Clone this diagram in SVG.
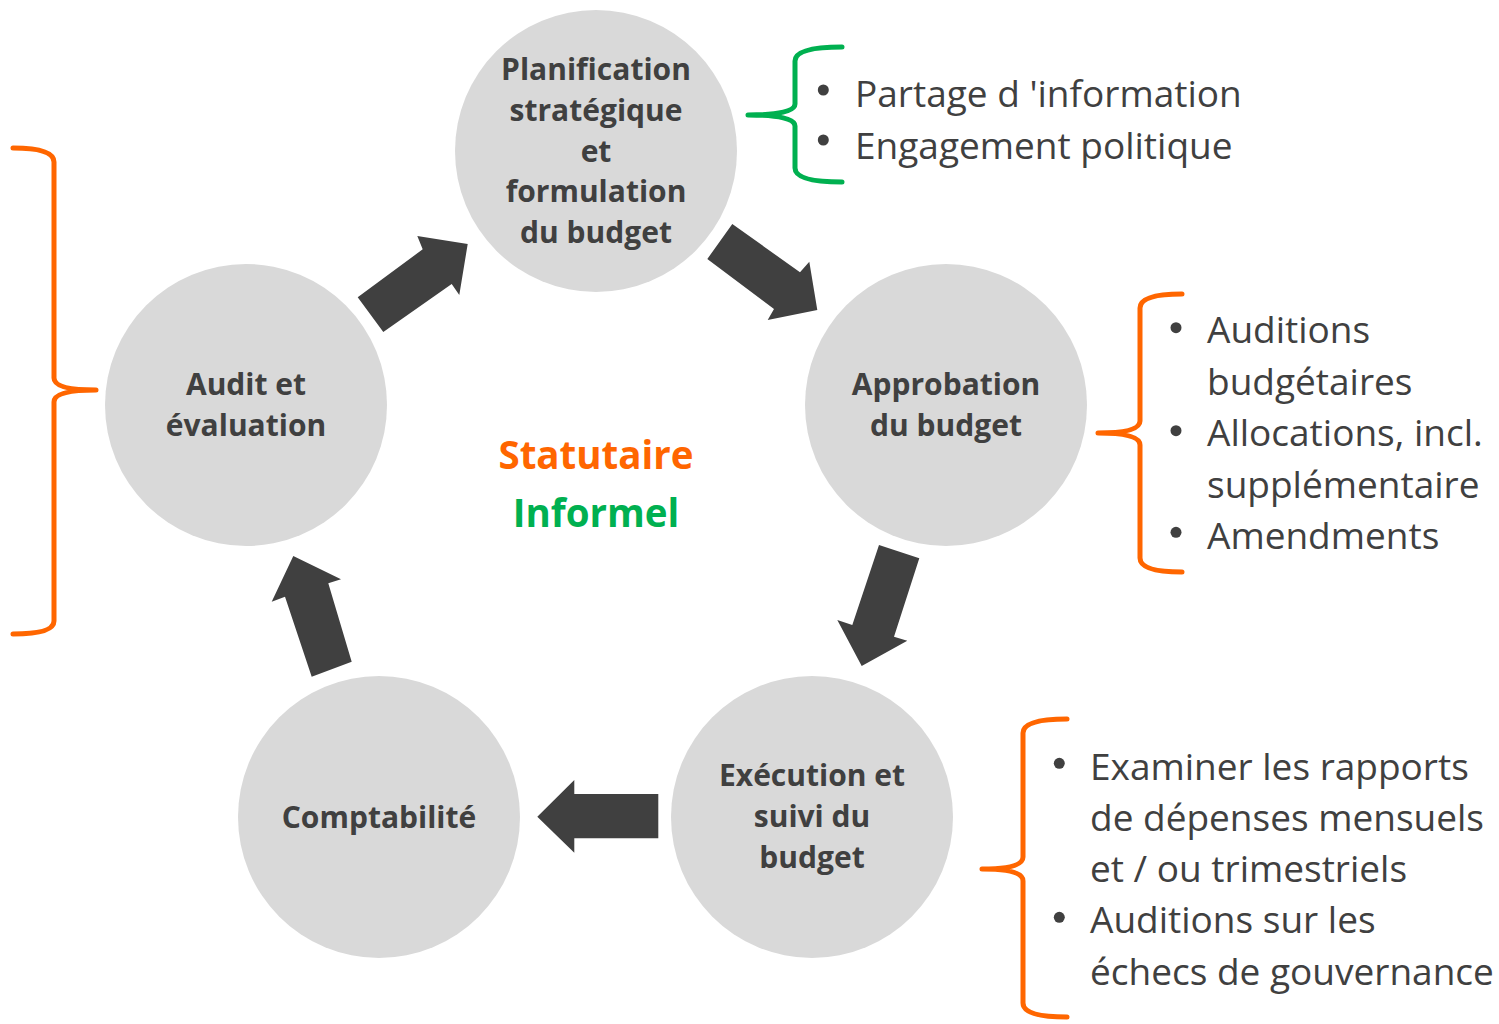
<svg xmlns="http://www.w3.org/2000/svg" width="1499" height="1024" viewBox="0 0 1499 1024">
<style>
.node circle{fill:#D9D9D9}
.lbl{font-family:"Open Sans","Liberation Sans",sans-serif;font-weight:bold;font-size:30px;fill:#404040;text-anchor:middle}
.arrow{fill:#404040}
.brace{fill:none;stroke-width:5;stroke-linecap:round;stroke-linejoin:round}
.orange{stroke:#FF6600}
.green{stroke:#00B050}
.item{font-family:"Open Sans","Liberation Sans",sans-serif;font-size:37px;fill:#404040}
.bul{fill:#404040}
</style>
<rect width="1499" height="1024" fill="#FFFFFF"/>
<g id="connectors">
<polygon class="arrow" points="357.7,297.3 383.3,332 451.7,284 459.3,295 467.7,244 417.3,236 422.7,249.3"/>
<polygon class="arrow" points="732.3,224 800,272.3 809.3,261.7 817.3,310 767.7,320 774,309 707.3,259"/>
<polygon class="arrow" points="879,545 919.3,558.3 894,636.7 907.3,640.7 861.7,666 837.3,620 852.3,625"/>
<polygon class="arrow" points="658.3,794 658.3,838.3 574.3,838.3 574.3,852.7 537.3,816.7 574.3,780 574.3,794"/>
<polygon class="arrow" points="311.7,676.7 351.7,661.7 328.3,583.3 341,579.3 293.3,556 271.7,601.7 285,596.7"/>
</g>
<g id="node-planification" class="node">
<circle cx="596" cy="151" r="141"/>
<text class="lbl" x="596" y="80">Planification</text>
<text class="lbl" x="596" y="121">stratégique</text>
<text class="lbl" x="596" y="162">et</text>
<text class="lbl" x="596" y="202">formulation</text>
<text class="lbl" x="596" y="243">du budget</text>
</g>
<g id="node-approbation" class="node">
<circle cx="946" cy="405" r="141"/>
<text class="lbl" x="946" y="395">Approbation</text>
<text class="lbl" x="946" y="436">du budget</text>
</g>
<g id="node-execution" class="node">
<circle cx="812" cy="817" r="141"/>
<text class="lbl" x="812" y="786">Exécution et</text>
<text class="lbl" x="812" y="827">suivi du</text>
<text class="lbl" x="812" y="868">budget</text>
</g>
<g id="node-comptabilite" class="node">
<circle cx="379" cy="817" r="141"/>
<text class="lbl" x="379" y="828">Comptabilité</text>
</g>
<g id="node-audit" class="node">
<circle cx="246" cy="405" r="141"/>
<text class="lbl" x="246" y="395">Audit et</text>
<text class="lbl" x="246" y="436">évaluation</text>
</g>
<g id="center-labels">
<text x="596" y="469" font-family="'Open Sans','Liberation Sans',sans-serif" font-weight="bold" font-size="38.5" fill="#FF6600" text-anchor="middle">Statutaire</text>
<text x="596" y="527" font-family="'Open Sans','Liberation Sans',sans-serif" font-weight="bold" font-size="38.5" fill="#00B050" text-anchor="middle">Informel</text>
</g>
<g id="brace-left">
<path class="brace orange" d="M13,148 Q54,148 54,162 L54,378 Q54,390 96,390 Q54,390 54,402 L54,621 Q54,634 13,634"/>
</g>
<g id="brace-planification">
<path class="brace green" d="M842,47 Q795,47 795,61 L795,104 Q795,115 748,115 Q795,115 795,126 L795,168 Q795,182 842,182"/>
<circle class="bul" cx="823.3" cy="90" r="5.5"/>
<circle class="bul" cx="823.3" cy="140" r="5.5"/>
<text class="item" x="855" y="107">Partage d 'information</text>
<text class="item" x="855" y="159">Engagement politique</text>
</g>
<g id="brace-approbation">
<path class="brace orange" d="M1182,294 Q1140,294 1140,308 L1140,421 Q1140,433 1098,433 Q1140,433 1140,445 L1140,558 Q1140,572 1182,572"/>
<circle class="bul" cx="1176" cy="327.7" r="5.5"/>
<circle class="bul" cx="1176" cy="430.7" r="5.5"/>
<circle class="bul" cx="1176" cy="532.3" r="5.5"/>
<text class="item" x="1207" y="343">Auditions</text>
<text class="item" x="1207" y="395">budgétaires</text>
<text class="item" x="1207" y="446">Allocations, incl.</text>
<text class="item" x="1207" y="498">supplémentaire</text>
<text class="item" x="1207" y="549">Amendments</text>
</g>
<g id="brace-execution">
<path class="brace orange" d="M1067,719 Q1023,719 1023,733 L1023,857 Q1023,869 982,869 Q1023,869 1023,881 L1023,1003 Q1023,1017 1067,1017"/>
<circle class="bul" cx="1059.3" cy="763.3" r="5.5"/>
<circle class="bul" cx="1059.3" cy="917.3" r="5.5"/>
<text class="item" x="1090" y="780">Examiner les rapports</text>
<text class="item" x="1090" y="831">de dépenses mensuels</text>
<text class="item" x="1090" y="882">et / ou trimestriels</text>
<text class="item" x="1090" y="933">Auditions sur les</text>
<text class="item" x="1090" y="985">échecs de gouvernance</text>
</g>
</svg>
